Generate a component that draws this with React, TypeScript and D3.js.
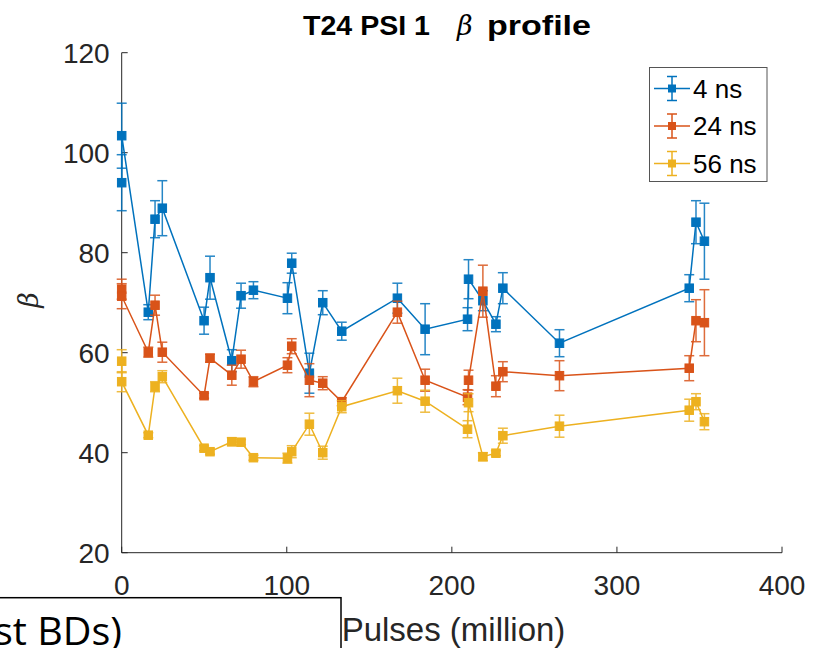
import React from "react";
import * as d3 from "d3";

const pulses = [0, 0, 16.1, 20.2, 24.6, 49.9, 53.5, 66.7, 72.3, 79.8, 100.4, 103, 113.7, 121.8, 133.3, 167, 183.8, 209.5, 210.1, 218.8, 226.7, 230.9, 265.2, 343.8, 347.9, 353];

const beta4 = [94.0, 103.4, 68.1, 86.7, 88.9, 66.4, 75.0, 58.4, 71.4, 72.5, 70.9, 77.9, 55.9, 70.0, 64.3, 70.9, 64.7, 66.7, 74.7, 70.4, 65.7, 72.9, 61.9, 72.9, 86.1, 82.3];
const err4 = [5.6, 6.5, 1.5, 3.7, 5.5, 2.7, 4.3, 2.2, 2.5, 1.7, 3.1, 2.0, 4.0, 2.4, 1.8, 3.0, 5.1, 2.3, 3.9, 2.0, 1.5, 3.1, 2.7, 2.7, 4.3, 7.6];

const beta24 = [72.7, 71.3, 60.1, 69.5, 60.1, 51.4, 58.9, 55.5, 58.7, 54.2, 57.5, 61.3, 54.5, 53.9, 50.2, 68.1, 54.5, 51.1, 54.5, 72.3, 53.3, 56.2, 55.4, 56.9, 66.4, 66.0];
const err24 = [2.0, 2.5, 1.0, 2.0, 2.0, 0.5, 0.8, 2.0, 1.8, 1.0, 1.5, 1.5, 3.3, 1.3, 0.8, 2.2, 2.2, 1.5, 2.0, 5.2, 2.1, 2.0, 3.0, 2.5, 4.2, 6.6];

const beta56 = [58.3, 54.2, 43.5, 53.2, 55.2, 40.9, 40.2, 42.2, 42.1, 39.0, 38.9, 40.2, 45.7, 40.0, 49.2, 52.4, 50.3, 44.7, 50.0, 39.2, 39.9, 43.4, 45.3, 48.5, 50.2, 46.2];
const err56 = [2.3, 2.0, 0.5, 1.0, 1.2, 0.5, 0.5, 0.8, 0.5, 0.5, 1.0, 1.2, 2.2, 1.3, 1.2, 2.5, 2.2, 1.7, 1.8, 0.8, 0.5, 1.5, 2.2, 2.2, 1.6, 1.6];

const seriesNames = ["4 ns", "24 ns", "56 ns"];
const seriesColors = ["#0072BD", "#D95319", "#EDB120"];
const seriesValues = [beta4, beta24, beta56];
const seriesErrors = [err4, err24, err56];

const xTicks = [0, 100, 200, 300, 400];
const yTicks = [20, 40, 60, 80, 100, 120];

const FONT = "'Liberation Sans', Arial, Helvetica, sans-serif";
const SERIF = "'DejaVu Serif', 'Liberation Serif', serif";
const AXIS = "#262626";

export default function App() {
  const x = d3.scaleLinear().domain([0, 400]).range([121.7, 782]);
  const y = d3.scaleLinear().domain([20, 120]).range([552.7, 52.7]);
  const line = d3
    .line<number>()
    .x((_, i) => x(pulses[i]))
    .y((d) => y(d));

  const ms = 8.5;
  const cap = 5;

  return (
    <svg width={815} height={648} style={{ position: "absolute", left: 0, top: 0, background: "#fff" }}>
      <rect x={0} y={0} width={815} height={648} fill="#fff" />
      {/* title */}
      <text x={303} y={35} fontFamily={FONT} fontWeight="bold" fontSize={27} fill="#000" textLength={127} lengthAdjust="spacingAndGlyphs">
        T24 PSI 1
      </text>
      <text x={457} y={35} fontFamily={SERIF} fontStyle="italic" fontSize={27} fill="#000">
        β
      </text>
      <text x={487} y={35} fontFamily={FONT} fontWeight="bold" fontSize={27} fill="#000" textLength={104} lengthAdjust="spacingAndGlyphs">
        profile
      </text>

      {/* axes */}
      <line x1={x(0)} x2={x(0)} y1={y(20)} y2={y(120)} stroke={AXIS} strokeWidth={1} />
      <line x1={x(0)} x2={x(400)} y1={y(20)} y2={y(20)} stroke={AXIS} strokeWidth={1} />
      {yTicks.map((t) => (
        <g key={"y" + t}>
          <line x1={x(0)} x2={x(0) + 6} y1={y(t)} y2={y(t)} stroke={AXIS} />
          <text x={x(0) - 12} y={y(t) + 10} textAnchor="end" fontFamily={FONT} fontSize={28} fill={AXIS}>
            {t}
          </text>
        </g>
      ))}
      {xTicks.map((t) => (
        <g key={"x" + t}>
          <line x1={x(t)} x2={x(t)} y1={y(20)} y2={y(20) - 6} stroke={AXIS} />
          <text x={x(t)} y={y(20) + 42} textAnchor="middle" fontFamily={FONT} fontSize={28} fill={AXIS}>
            {t}
          </text>
        </g>
      ))}
      <text x={453.5} y={641} textAnchor="middle" fontFamily={FONT} fontSize={33} fill={AXIS}>
        Pulses (million)
      </text>
      <text
        transform={`translate(38,300) rotate(-90)`}
        textAnchor="middle"
        fontFamily={SERIF}
        fontStyle="italic"
        fontSize={27}
        fill={AXIS}
      >
        β
      </text>

      {/* series */}
      {seriesValues.map((vals, si) => {
        const c = seriesColors[si];
        const errs = seriesErrors[si];
        return (
          <g key={si}>
            <path d={line(vals) || ""} fill="none" stroke={c} strokeWidth={1.5} />
            {vals.map((v, i) => {
              const px = x(pulses[i]);
              const top = y(v + errs[i]);
              const bot = y(v - errs[i]);
              return (
                <g key={i} stroke={c} strokeWidth={1.5} opacity={0.85}>
                  <line x1={px} x2={px} y1={top} y2={bot} />
                  <line x1={px - cap} x2={px + cap} y1={top} y2={top} />
                  <line x1={px - cap} x2={px + cap} y1={bot} y2={bot} />
                </g>
              );
            })}
            {vals.map((v, i) => (
              <rect
                key={"m" + i}
                x={x(pulses[i]) - ms / 2}
                y={y(v) - ms / 2}
                width={ms}
                height={ms}
                fill={c}
                stroke={c}
                strokeWidth={1}
              />
            ))}
          </g>
        );
      })}

      {/* legend */}
      <rect x={649.5} y={67.5} width={117.5} height={114} fill="#fff" stroke="#555" strokeWidth={1} />
      {seriesNames.map((n, i) => {
        const cy = 88.5 + i * 37.5;
        const c = seriesColors[i];
        return (
          <g key={n}>
            <line x1={654} x2={690} y1={cy} y2={cy} stroke={c} strokeWidth={1.5} />
            <line x1={672} x2={672} y1={cy - 12} y2={cy + 12} stroke={c} strokeWidth={1.5} />
            <line x1={667} x2={677} y1={cy - 12} y2={cy - 12} stroke={c} strokeWidth={1.5} />
            <line x1={667} x2={677} y1={cy + 12} y2={cy + 12} stroke={c} strokeWidth={1.5} />
            <rect x={672 - 4} y={cy - 4} width={8} height={8} fill={c} />
            <text x={693} y={cy + 9} fontFamily={FONT} fontSize={26} fill="#000">
              {n}
            </text>
          </g>
        );
      })}

      {/* overlay box from the slide */}
      <rect x={-2} y={597.7} width={343} height={60} fill="#fff" stroke="#000" strokeWidth={1.5} />
      <text x={122} y={645} textAnchor="end" fontFamily="'Open Sans', 'Noto Sans', sans-serif" fontSize={39} fill="#000" textLength={128} lengthAdjust="spacingAndGlyphs">
        st BDs)
      </text>
    </svg>
  );
}
